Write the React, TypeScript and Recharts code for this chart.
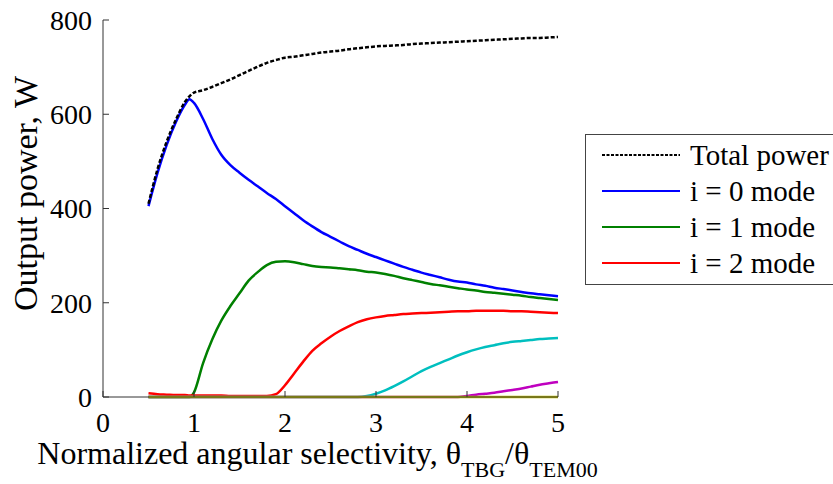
import React from "react";
import { LineChart, Line, XAxis, YAxis, Legend } from "recharts";

// x values of the simulation (normalized angular selectivity)
const xValues = [
  0.5, 0.6, 0.7, 0.8, 0.9, 0.95, 1.0,
  1.1, 1.2, 1.3, 1.4, 1.5, 1.6, 1.7, 1.8, 1.9, 2.0,
  2.1, 2.2, 2.3, 2.4, 2.5, 2.6, 2.7, 2.8, 2.9, 3.0,
  3.1, 3.2, 3.3, 3.4, 3.5, 3.6, 3.7, 3.8, 3.9, 4.0,
  4.1, 4.2, 4.3, 4.4, 4.5, 4.6, 4.7, 4.8, 4.9, 5.0,
];

const totalPower = [
  410, 484, 542, 588, 626, 638, 646,
  651, 658, 666, 674, 683, 692, 701, 709, 715, 720,
  722, 725, 728, 731, 733, 735, 738, 740, 742, 744,
  745, 746, 747, 749, 750, 751, 752, 753, 754, 755,
  756, 757, 758, 759, 760, 761, 762, 762, 763, 764,
];

const mode0 = [
  405, 476, 535, 583, 620, 632, 624,
  590, 548, 514, 492, 476, 461, 447, 433, 420, 405,
  390, 375, 362, 350, 340, 330, 320, 312, 304, 297,
  290, 283, 276, 270, 264, 259, 254, 249, 245, 243,
  239, 236, 232, 229, 226, 223, 220, 218, 216, 214,
];

const mode1 = [
  0, 0, 0, 0, 0, 0, 10,
  72, 122, 162, 193, 220, 247, 265, 280, 287, 288,
  286, 282, 278, 276, 275, 273, 271, 269, 266, 264,
  261, 257, 252, 248, 244, 240, 237, 234, 231, 228,
  226, 223, 221, 219, 217, 215, 212, 210, 208, 206,
];

const mode2 = [
  8, 6, 5, 4, 4, 3, 3,
  3, 3, 3, 2, 2, 2, 2, 2, 6, 25,
  50, 75, 98, 114, 128, 140, 150, 159, 165, 169,
  172, 174, 176, 177, 178, 179, 180, 181, 182, 182,
  183, 183, 183, 183, 182, 182, 181, 180, 179, 178,
];

const mode3 = [
  0, 0, 0, 0, 0, 0, 0,
  0, 0, 0, 0, 0, 0, 0, 0, 0, 0,
  0, 0, 0, 0, 0, 0, 0, 0, 2, 7,
  14, 23, 33, 44, 55, 64, 72, 80, 88, 95,
  101, 106, 110, 114, 117, 119, 121, 123, 124, 125,
];

const mode4 = [
  0, 0, 0, 0, 0, 0, 0,
  0, 0, 0, 0, 0, 0, 0, 0, 0, 0,
  0, 0, 0, 0, 0, 0, 0, 0, 0, 0,
  0, 0, 0, 0, 0, 0, 0, 0, 0, 2,
  5, 7, 9, 12, 15, 18, 22, 26, 29, 32,
];

const mode5 = xValues.map(() => 0);

const xTicks = [0, 1, 2, 3, 4, 5];
const yTicks = [0, 200, 400, 600, 800];

const data = xValues.map((x, i) => ({
  x,
  total: totalPower[i],
  m0: mode0[i],
  m1: mode1[i],
  m2: mode2[i],
  m3: mode3[i],
  m4: mode4[i],
  m5: mode5[i],
}));

const FONT = "Liberation Serif";
const AXIS = "#333";
const Y_GAP = 11;
const X_GAP = 15;
const TICK_LEN = 6;

const YTick = (props: any) => {
  const { x, y, payload } = props;
  return (
    <g>
      <line x1={x + Y_GAP} x2={x + Y_GAP + TICK_LEN} y1={y} y2={y} stroke={AXIS} />
      <text x={x} y={y} dy="0.355em" textAnchor="end" fontSize={28} fontFamily={FONT} fill="#000">
        {payload.value}
      </text>
    </g>
  );
};

const XTick = (props: any) => {
  const { x, y, payload } = props;
  return (
    <g>
      <line x1={x} x2={x} y1={y - X_GAP} y2={y - X_GAP - TICK_LEN} stroke={AXIS} />
      <text x={x} y={y} dy="0.71em" textAnchor="middle" fontSize={28} fontFamily={FONT} fill="#000">
        {payload.value}
      </text>
    </g>
  );
};

const xLabel = (props: any) => {
  const { x, y, width } = props.viewBox;
  return (
    <text x={x + width / 2 - 13} y={y + 67} textAnchor="middle" fontSize={32} fontFamily={FONT} fill="#000">
      Normalized angular selectivity, θ
      <tspan fontSize={22} dy={13}>TBG</tspan>
      <tspan dy={-13}>/θ</tspan>
      <tspan fontSize={22} dy={13}>TEM00</tspan>
    </text>
  );
};

const yLabel = (props: any) => {
  const { y, height } = props.viewBox;
  const cx = 37;
  const cy = y + height / 2 - 15;
  return (
    <text
      x={cx}
      y={cy}
      textAnchor="middle"
      fontSize={34}
      fontFamily={FONT}
      fill="#000"
      transform={`rotate(-90, ${cx}, ${cy})`}
    >
      Output power, W
    </text>
  );
};

const legendItems = [
  { name: "Total power", color: "#000", dash: "3 1.5" },
  { name: "i = 0 mode", color: "#0000ff", dash: undefined },
  { name: "i = 1 mode", color: "#008000", dash: undefined },
  { name: "i = 2 mode", color: "#ff0000", dash: undefined },
];

const renderLegend = () => (
  <svg width={250} height={152} style={{ display: "block" }}>
    <rect x={0.5} y={0.5} width={260} height={150} fill="#fff" stroke="#444" />
    {legendItems.map((it, i) => (
      <g key={it.name}>
        <line
          x1={17}
          x2={95}
          y1={21 + 36 * i}
          y2={21 + 36 * i}
          stroke={it.color}
          strokeWidth={2}
          strokeDasharray={it.dash}
        />
        <text x={105} y={21 + 36 * i} dy="0.35em" fontSize={29} fontFamily={FONT} fill="#000">
          {it.name}
        </text>
      </g>
    ))}
  </svg>
);

export default function App() {
  return (
    <div style={{ position: "fixed", left: 0, top: 0, background: "#fff" }}>
      <LineChart
        width={833}
        height={484}
        data={data}
        margin={{ top: 20, right: 275, bottom: 27, left: 43 }}
      >
        <XAxis
          dataKey="x"
          type="number"
          domain={[0, 5]}
          ticks={xTicks}
          height={60}
          tickSize={0}
          tickMargin={X_GAP}
          tickLine={false}
          axisLine={{ stroke: AXIS }}
          tick={<XTick />}
          label={xLabel}
        />
        <YAxis
          type="number"
          domain={[0, 800]}
          ticks={yTicks}
          width={60}
          tickSize={0}
          tickMargin={Y_GAP}
          tickLine={false}
          axisLine={{ stroke: AXIS }}
          tick={<YTick />}
          label={yLabel}
        />
        <Legend
          content={renderLegend}
          layout="horizontal"
          align="center"
          verticalAlign="middle"
          wrapperStyle={{ left: 585, top: 134, width: 250, height: 152 }}
        />
        <Line type="monotone" dataKey="m0" stroke="#0000ff" strokeWidth={2.5} dot={false} isAnimationActive={false} />
        <Line type="monotone" dataKey="m1" stroke="#008000" strokeWidth={2.5} dot={false} isAnimationActive={false} />
        <Line type="monotone" dataKey="m2" stroke="#ff0000" strokeWidth={2.5} dot={false} isAnimationActive={false} />
        <Line type="monotone" dataKey="m3" stroke="#00bfbf" strokeWidth={2.5} dot={false} isAnimationActive={false} />
        <Line type="monotone" dataKey="m4" stroke="#bf00bf" strokeWidth={2.5} dot={false} isAnimationActive={false} />
        <Line type="monotone" dataKey="m5" stroke="#bfbf00" strokeWidth={2.5} dot={false} isAnimationActive={false} />
        <Line
          type="monotone"
          dataKey="total"
          stroke="#000"
          strokeWidth={2.5}
          strokeDasharray="4 2"
          dot={false}
          isAnimationActive={false}
        />
      </LineChart>
    </div>
  );
}
